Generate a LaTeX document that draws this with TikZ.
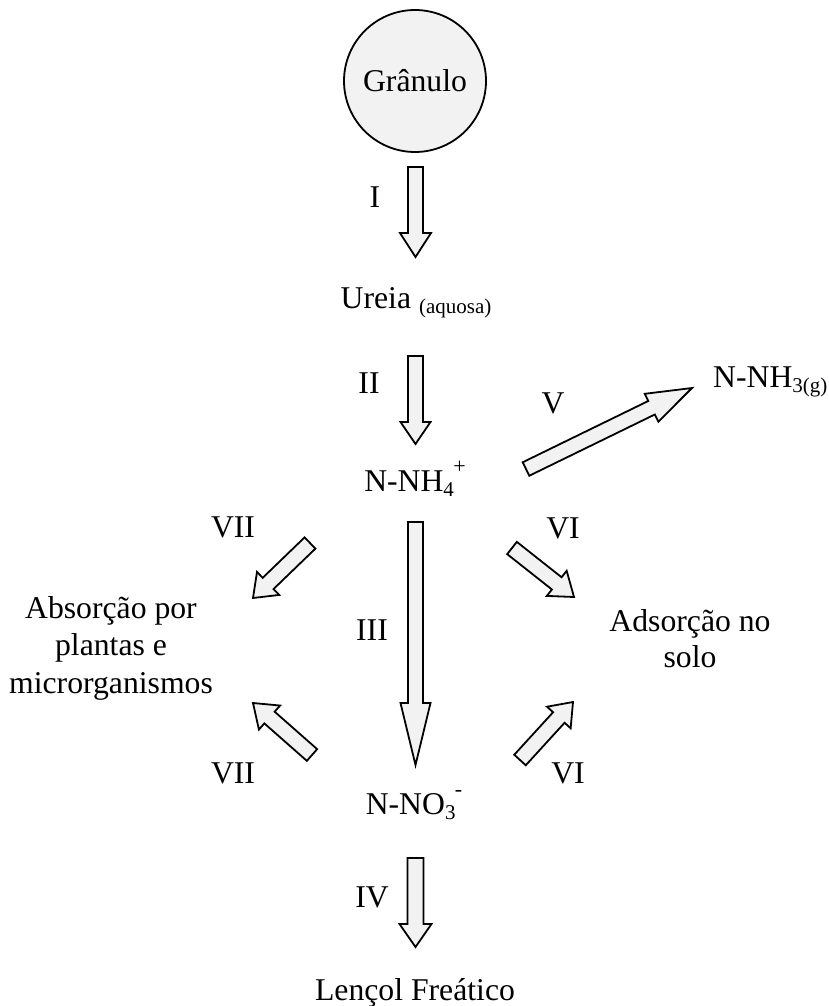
\documentclass[tikz,border=0pt]{standalone}
\usepackage{fontspec}
\setmainfont{Liberation Serif}
\usetikzlibrary{calc}
\definecolor{boxfill}{HTML}{F2F2F2}

% small lowered / raised index text
\newcommand\subtxt[1]{\raisebox{-0.17em}{\fontsize{21}{21}\selectfont #1}}
\newcommand\suptxt[1]{\raisebox{0.55em}{\fontsize{22}{22}\selectfont #1}}

% block arrow: #1 tail, #2 tip, #3 shaft half width, #4 head half width, #5 head length
\newcommand\blockarrow[5]{%
  \coordinate (bahead) at ($(#2)!#5!(#1)$);
  \draw[barrow]
    ($(#1)!#3!90:(#2)$) -- ($(bahead)!#3!90:(#2)$) -- ($(bahead)!#4!90:(#2)$)
    -- (#2)
    -- ($(bahead)!#4!-90:(#2)$) -- ($(bahead)!#3!-90:(#2)$) -- ($(#1)!#3!-90:(#2)$)
    -- cycle;
}

\tikzset{
  txt/.style={inner sep=0pt, font=\fontsize{31.7}{37.5}\selectfont},
  roman/.style={txt, anchor=center},
  barrow/.style={draw=black, fill=boxfill, line width=1.8pt, line join=miter},
}

\begin{document}
\begin{tikzpicture}[x=1pt, y=-1pt]
  \useasboundingbox (0,0) rectangle (829,1006);

  % stages
  \node[draw, circle, fill=boxfill, line width=1.8pt, minimum size=142pt,
        inner sep=0pt, font=\fontsize{31.7}{37.5}\selectfont] (gran) at (415,81) {Grânulo};
  \node[txt, anchor=base] (ureia) at (416,308) {Ureia \subtxt{(aquosa)}};
  \node[txt, anchor=base] (nh4) at (415,491) {N-NH\subtxt{4}\kern-0.02em\suptxt{+}};
  \node[txt, anchor=base west] (nh3) at (713,387) {N-NH\subtxt{3(g)}};
  \node[txt, anchor=base] (no3) at (414,814) {N-NO\subtxt{3}\kern-0.02em\suptxt{-}};
  \node[txt, anchor=base] (lencol) at (415,1000) {Lençol Freático};
  \node[txt, align=center, anchor=center] (absor) at (111,648)
        {Absorção por\\plantas e\\microrganismos};
  \node[txt, align=center, anchor=center, font=\fontsize{31.7}{36}\selectfont] (adsor) at (690,639)
        {Adsorção no\\solo};

  % arrow ends
  \coordinate (i-s)    at (415.5,167); \coordinate (i-e)    at (415.5,257);
  \coordinate (ii-s)   at (415.5,356); \coordinate (ii-e)   at (415.5,444);
  \coordinate (iii-s)  at (415.5,522); \coordinate (iii-e)  at (415.5,765);
  \coordinate (iv-s)   at (415.5,858); \coordinate (iv-e)   at (415.5,947);
  \coordinate (v-s)    at (526,469);   \coordinate (v-e)    at (692,388);
  \coordinate (via-s)  at (512,548);   \coordinate (via-e)  at (574,597);
  \coordinate (vib-s)  at (520,760);   \coordinate (vib-e)  at (573,702);
  \coordinate (viia-s) at (310,543);   \coordinate (viia-e) at (253,598);
  \coordinate (viib-s) at (312,755);   \coordinate (viib-e) at (253,703);

  % process arrows
  \blockarrow{i-s}{i-e}{7.5pt}{15.5pt}{24pt}
  \blockarrow{ii-s}{ii-e}{7.5pt}{15pt}{22pt}
  \blockarrow{iii-s}{iii-e}{7.5pt}{15pt}{62pt}
  \blockarrow{iv-s}{iv-e}{8pt}{16pt}{23pt}
  \blockarrow{v-s}{v-e}{7.5pt}{15.5pt}{45pt}
  \blockarrow{via-s}{via-e}{7.8pt}{16pt}{22pt}
  \blockarrow{vib-s}{vib-e}{7.8pt}{16pt}{21pt}
  \blockarrow{viia-s}{viia-e}{7.8pt}{16pt}{21pt}
  \blockarrow{viib-s}{viib-e}{7.8pt}{16pt}{22pt}

  % process labels
  \node[roman] (l1)   at (375,197) {I};
  \node[roman] (l2)   at (369,383) {II};
  \node[roman] (l3)   at (372,630) {III};
  \node[roman] (l4)   at (372,897) {IV};
  \node[roman] (l5)   at (553,403) {V};
  \node[roman] (l6a)  at (563,528) {VI};
  \node[roman] (l6b)  at (568,773) {VI};
  \node[roman] (l7a)  at (233,527) {VII};
  \node[roman] (l7b)  at (233,773) {VII};
\end{tikzpicture}
\end{document}
